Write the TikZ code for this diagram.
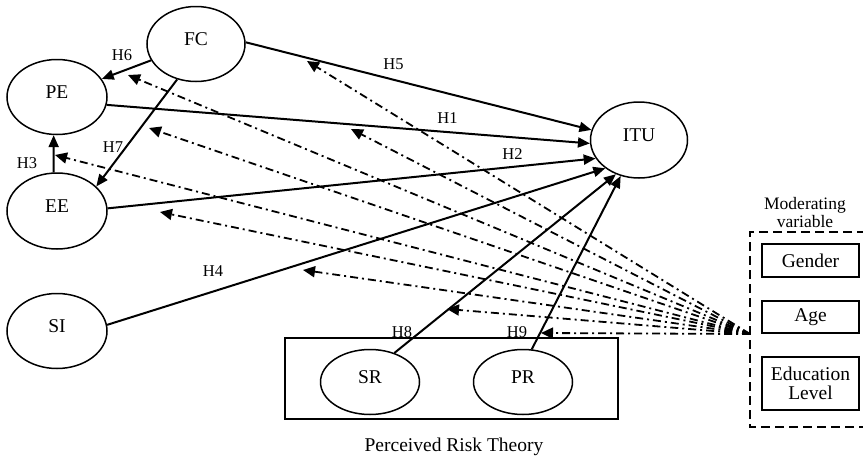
\documentclass[tikz,border=0pt]{standalone}
\usepackage{fontspec}
\setmainfont{Liberation Serif}
\usetikzlibrary{shapes.geometric,arrows.meta}
\begin{document}
\begin{tikzpicture}[x=1pt,y=-1pt,
  var/.style={ellipse,draw,line width=1.5pt,inner sep=0pt,minimum width=99pt,minimum height=75pt,font=\fontsize{19.5}{22}\selectfont,text height=13pt,text depth=11pt},
  hyp/.style={line width=2pt,-{Triangle[length=12pt,width=10pt]}},
  modl/.style={line width=1.8pt,dash pattern=on 8pt off 4pt on 2pt off 4pt,-{Triangle[length=12pt,width=11pt]}},
  hlab/.style={font=\fontsize{16.5}{18}\selectfont,inner sep=0pt},
  mbox/.style={draw,line width=1.6pt,minimum width=97pt,inner sep=0pt,align=center,font=\fontsize{19.5}{19}\selectfont}
]
\useasboundingbox (0,0) rectangle (863,456);

% constructs
\node[var,minimum width=98pt,minimum height=75pt] (FC) at (196,44) {FC};
\node[var,minimum width=100pt] (PE) at (57,97) {PE};
\node[var,minimum width=100pt,minimum height=76pt] (EE) at (57,211) {EE};
\node[var,minimum width=100pt] (SI) at (57,331) {SI};
\node[var,minimum width=97pt,minimum height=76pt] (ITU) at (639,140) {ITU};

% perceived risk theory group
\node[draw,line width=1.6pt,minimum width=333pt,minimum height=81pt,inner sep=0pt] (PRT) at (451.5,378.5) {};
\node[var,minimum width=99pt,minimum height=65pt] (SR) at (370,382) {SR};
\node[var,minimum width=99pt,minimum height=65pt] (PR) at (523,382) {PR};
\node[font=\fontsize{19.5}{22}\selectfont,inner sep=0pt] (PRTlab) at (454,447) {Perceived Risk Theory};

% moderating variables
\draw[line width=1.8pt,dash pattern=on 9pt off 5pt] (866,232) -- (750,232) -- (750,427) -- (866,427);
\node[align=center,font=\fontsize{17.5}{18}\selectfont,inner sep=0pt] (modlab) at (805,213) {Moderating\\variable};
\node[mbox,minimum height=33pt] (G) at (810.5,260.5) {Gender};
\node[mbox,minimum height=32pt] (A) at (810.5,317) {Age};
\node[mbox,minimum height=53pt] (EL) at (810.5,383.5) {Education\\Level};

% hypotheses
\draw[hyp] (FC.2) -- (ITU.168);
\draw[hyp] (FC.200) -- (PE.22);
\draw[hyp] (FC.242) -- (EE.32);
\draw[hyp] (PE.351) -- (ITU.184);
\draw[hyp] (EE.3) -- (ITU.203);
\draw[hyp] (EE.95) -- (PE.265);
\draw[hyp] (SI.7) -- (ITU.220);
\draw[hyp] (SR.50) -- (ITU.236);
\draw[hyp] (PR.75) -- (ITU.243);

\node[hlab] (h6) at (122,55) {H6};
\node[hlab] (h7) at (113,147.5) {H7};
\node[hlab] (h3) at (27,163) {H3};
\node[hlab] (h5) at (393.5,64) {H5};
\node[hlab] (h1) at (447.5,118.5) {H1};
\node[hlab] (h2) at (512.5,154) {H2};
\node[hlab] (h4) at (213,271) {H4};
\node[hlab] (h8) at (402,332) {H8};
\node[hlab] (h9) at (517,332) {H9};

% moderation links
\coordinate (M) at (750,334);
\coordinate (m1) at (128,75);
\coordinate (m2) at (307,61);
\coordinate (m3) at (149,128);
\coordinate (m4) at (351,129);
\coordinate (m5) at (55,155);
\coordinate (m6) at (160,212);
\coordinate (m7) at (303,270);
\coordinate (m8) at (447,309);
\coordinate (m9) at (541,333);
\foreach \t in {m1,m2,m3,m4,m5,m6,m7,m8,m9}
  \draw[modl] (M) -- (\t);
\end{tikzpicture}
\end{document}
